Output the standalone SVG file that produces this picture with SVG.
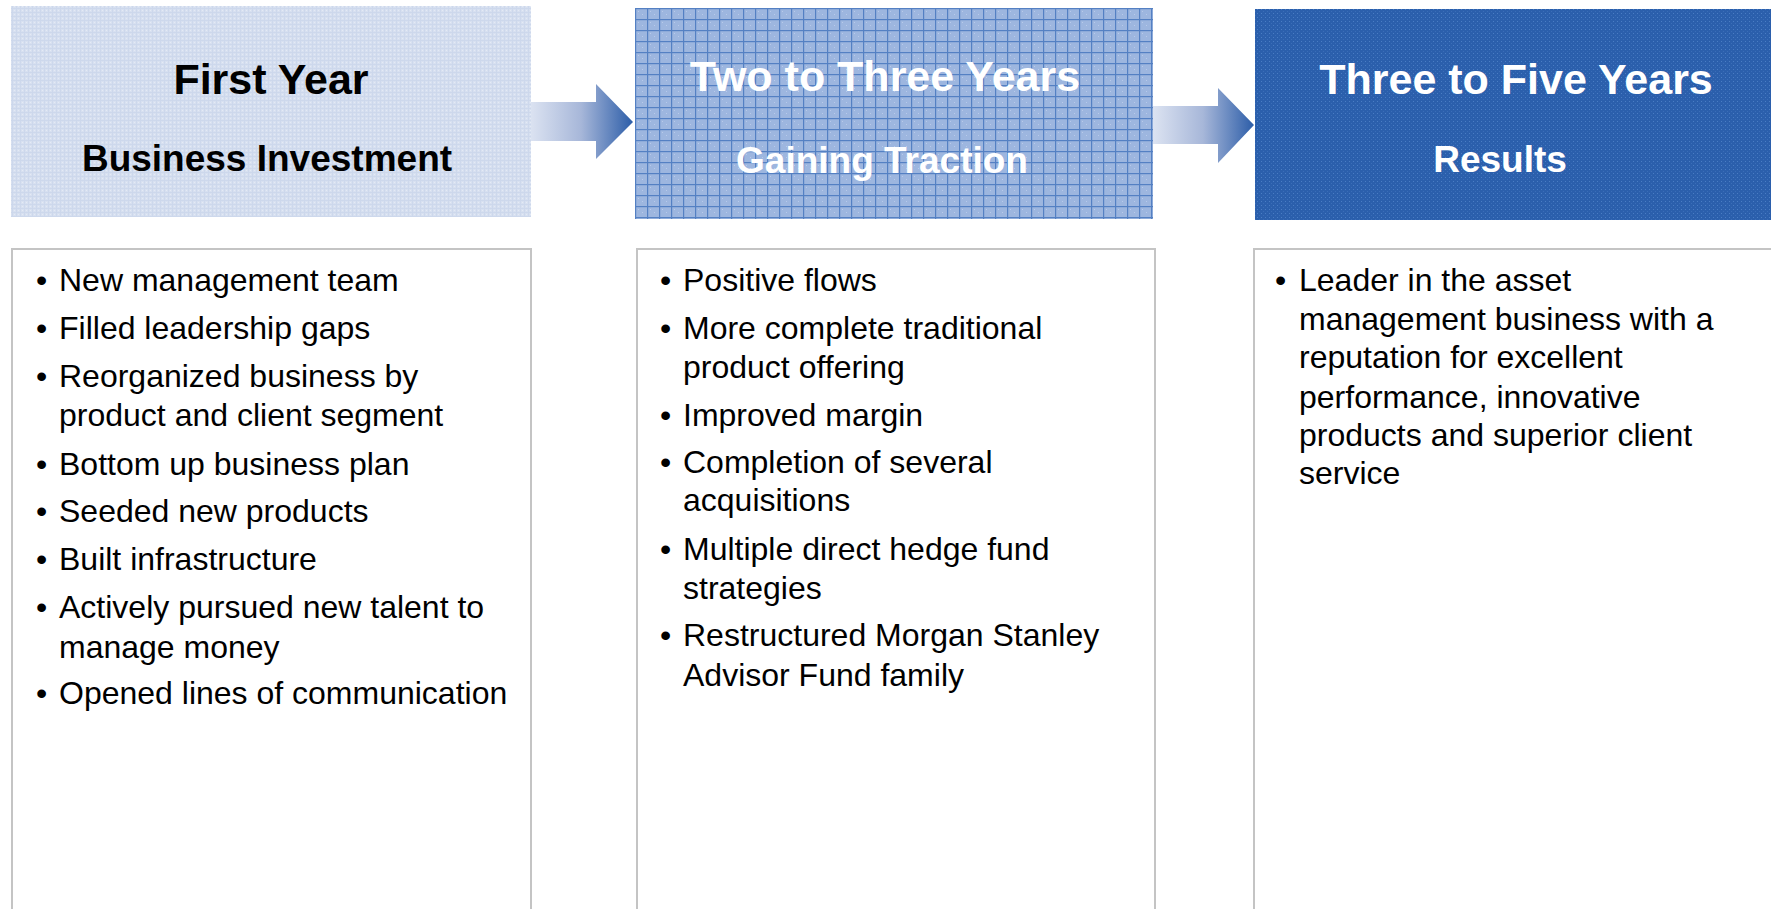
<svg xmlns="http://www.w3.org/2000/svg" width="1771" height="909" viewBox="0 0 1771 909">
<style>
.t{font-family:"Liberation Sans",Arial,sans-serif;font-weight:bold;text-anchor:middle}
.ti{font-size:43px}
.su{font-size:37px}
.dk{fill:#000}
.wh{fill:#fff}
.b{font-family:"Liberation Sans",Arial,sans-serif;font-size:32px;fill:#000}
.box{fill:#fff;stroke:#c4c4c4;stroke-width:2}
</style>
<defs>
<pattern id="p1" width="4" height="4" patternUnits="userSpaceOnUse">
<rect width="4" height="4" fill="#d7e0f0"/>
<rect x="0" y="0" width="1" height="4" fill="#cdd8ec"/>
<rect x="0" y="0" width="4" height="1" fill="#cdd8ec"/>
<rect x="2" y="2" width="1" height="1" fill="#e4eaf5"/>
</pattern>
<pattern id="p2" x="635" y="8" width="12" height="11" patternUnits="userSpaceOnUse">
<rect width="12" height="11" fill="#9db6df"/>
<rect x="3" y="3" width="1" height="1" fill="#b8caea"/>
<rect x="7" y="6" width="1" height="1" fill="#b8caea"/>
<rect x="0" y="0" width="1.2" height="11" fill="#5480c3"/>
<rect x="0" y="0" width="12" height="1.2" fill="#5480c3"/>
</pattern>
<pattern id="p3" width="4" height="4" patternUnits="userSpaceOnUse">
<rect width="4" height="4" fill="#2b5fac"/>
<rect x="1" y="1" width="1" height="1" fill="#4a7dc4"/>
<rect x="3" y="3" width="1" height="1" fill="#3a6db8"/>
</pattern>
<linearGradient id="ag" x1="0" y1="0" x2="1" y2="0">
<stop offset="0" stop-color="#dde4f2"/>
<stop offset="0.5" stop-color="#a7b7d9"/>
<stop offset="1" stop-color="#2c5da8"/>
</linearGradient>
</defs>

<g id="connectors">
<path d="M529,102 H596 V84 L633,122 L596,159 V141 H529 Z" fill="url(#ag)"/>
<path d="M1152,106 H1218 V88 L1254,125 L1218,163 V144 H1152 Z" fill="url(#ag)"/>
</g>

<g id="header1">
<rect x="11" y="6" width="520" height="211" fill="url(#p1)"/>
<text class="t ti dk" x="271" y="94">First Year</text>
<text class="t su dk" x="267" y="171">Business Investment</text>
</g>
<g id="header2">
<rect x="635" y="8" width="518" height="211" fill="url(#p2)"/>
<text class="t ti wh" x="885" y="91">Two to Three Years</text>
<text class="t su wh" x="882" y="173">Gaining Traction</text>
</g>
<g id="header3">
<rect x="1255" y="9" width="516" height="211" fill="url(#p3)"/>
<text class="t ti wh" x="1516" y="94">Three to Five Years</text>
<text class="t su wh" x="1500" y="172">Results</text>
</g>

<g id="box1">
<rect class="box" x="12" y="249" width="519" height="680"/>
<text class="b" x="36" y="291">•</text><text class="b" x="59" y="291">New management team</text>
<text class="b" x="36" y="339">•</text><text class="b" x="59" y="339">Filled leadership gaps</text>
<text class="b" x="36" y="387">•</text><text class="b" x="59" y="387">Reorganized business by</text>
<text class="b" x="59" y="426">product and client segment</text>
<text class="b" x="36" y="475">•</text><text class="b" x="59" y="475">Bottom up business plan</text>
<text class="b" x="36" y="522">•</text><text class="b" x="59" y="522">Seeded new products</text>
<text class="b" x="36" y="570">•</text><text class="b" x="59" y="570">Built infrastructure</text>
<text class="b" x="36" y="618">•</text><text class="b" x="59" y="618">Actively pursued new talent to</text>
<text class="b" x="59" y="658">manage money</text>
<text class="b" x="36" y="704">•</text><text class="b" x="59" y="704">Opened lines of communication</text>
</g>

<g id="box2">
<rect class="box" x="637" y="249" width="518" height="680"/>
<text class="b" x="660" y="291">•</text><text class="b" x="683" y="291">Positive flows</text>
<text class="b" x="660" y="339">•</text><text class="b" x="683" y="339">More complete traditional</text>
<text class="b" x="683" y="378">product offering</text>
<text class="b" x="660" y="426">•</text><text class="b" x="683" y="426">Improved margin</text>
<text class="b" x="660" y="473">•</text><text class="b" x="683" y="473">Completion of several</text>
<text class="b" x="683" y="511">acquisitions</text>
<text class="b" x="660" y="560">•</text><text class="b" x="683" y="560">Multiple direct hedge fund</text>
<text class="b" x="683" y="599">strategies</text>
<text class="b" x="660" y="646">•</text><text class="b" x="683" y="646">Restructured Morgan Stanley</text>
<text class="b" x="683" y="686">Advisor Fund family</text>
</g>

<g id="box3">
<rect class="box" x="1254" y="249" width="540" height="680"/>
<text class="b" x="1275" y="291">•</text><text class="b" x="1299" y="291">Leader in the asset</text>
<text class="b" x="1299" y="330">management business with a</text>
<text class="b" x="1299" y="368">reputation for excellent</text>
<text class="b" x="1299" y="408">performance, innovative</text>
<text class="b" x="1299" y="446">products and superior client</text>
<text class="b" x="1299" y="484">service</text>
</g>
</svg>
